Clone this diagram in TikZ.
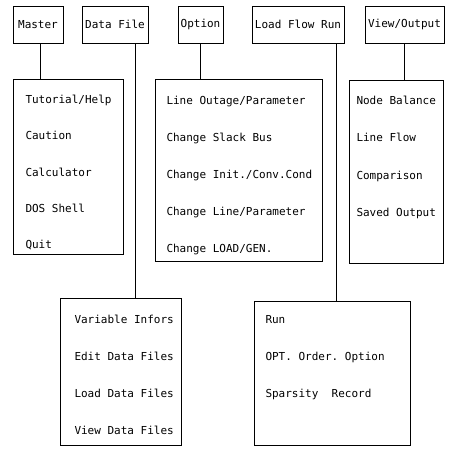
\documentclass[tikz,border=0pt]{standalone}
\usepackage{fontspec}
\setmonofont{DejaVu Sans Mono}
\usetikzlibrary{positioning}

\begin{document}
\begin{tikzpicture}[x=1pt,y=-1pt,line width=1pt,
	head/.style={draw,inner sep=0pt,minimum height=37pt,font=\ttfamily\fontsize{11}{13}\selectfont},
	menu/.style={draw,inner sep=0pt,anchor=north west},
	item/.style={anchor=base west,inner sep=0pt,font=\ttfamily\fontsize{11}{13}\selectfont}]
	\useasboundingbox (0,0) rectangle (449,450);

	% top row
	\node[head,minimum width=50pt]	(master)	at (38,24.5)	{Master};
	\node[head,minimum width=66pt]	(datafile)	at (115,24.5)	{Data File};
	\node[head,minimum width=45pt]	(option)	at (200.5,24.5)	{Option};
	\node[head,minimum width=92pt]	(loadflow)	at (298,24.5)	{Load Flow Run};
	\node[head,minimum width=79pt]	(view)		at (404.5,24.5)	{View/Output};

	% menus
	\node[menu,minimum width=110pt,minimum height=175pt]	(mastermenu)	at (13,79)	{};
	\node[menu,minimum width=167pt,minimum height=182pt]	(optionmenu)	at (155,79)	{};
	\node[menu,minimum width=94pt,minimum height=183pt]	(viewmenu)	at (349,80)	{};
	\node[menu,minimum width=121pt,minimum height=147pt]	(datamenu)	at (60,298)	{};
	\node[menu,minimum width=156pt,minimum height=144pt]	(runmenu)	at (254,301)	{};

	\foreach \t [count=\i from 0] in {{Tutorial/Help},Caution,Calculator,DOS Shell,Quit}
		\node[item] (master-\i) at (25,103.5+36.3*\i) {\t};
	\foreach \t [count=\i from 0] in {{Line Outage/Parameter},Change Slack Bus,{Change Init./Conv.Cond},{Change Line/Parameter},{Change LOAD/GEN.}}
		\node[item] (option-\i) at (166,104+37*\i) {\t};
	\foreach \t [count=\i from 0] in {Node Balance,Line Flow,Comparison,Saved Output}
		\node[item] (view-\i) at (356,104+37.5*\i) {\t};
	\foreach \t [count=\i from 0] in {Variable Infors,Edit Data Files,Load Data Files,View Data Files}
		\node[item] (data-\i) at (74,323+37*\i) {\t};
	\foreach \t [count=\i from 0] in {Run,OPT. Order. Option,Sparsity~~Record}
		\node[item] (run-\i) at (265,323+37*\i) {\t};

	\draw ([xshift=2pt]master.south) -- ([xshift=2pt]master.south |- mastermenu.north);
	\draw ([xshift=20pt]datafile.south) -- ([xshift=20pt]datafile.south |- datamenu.north);
	\draw (option.south) -- (option.south |- optionmenu.north);
	\draw ([xshift=38pt]loadflow.south) -- ([xshift=38pt]loadflow.south |- runmenu.north);
	\draw (view.south) -- (view.south |- viewmenu.north);
\end{tikzpicture}
\end{document}
